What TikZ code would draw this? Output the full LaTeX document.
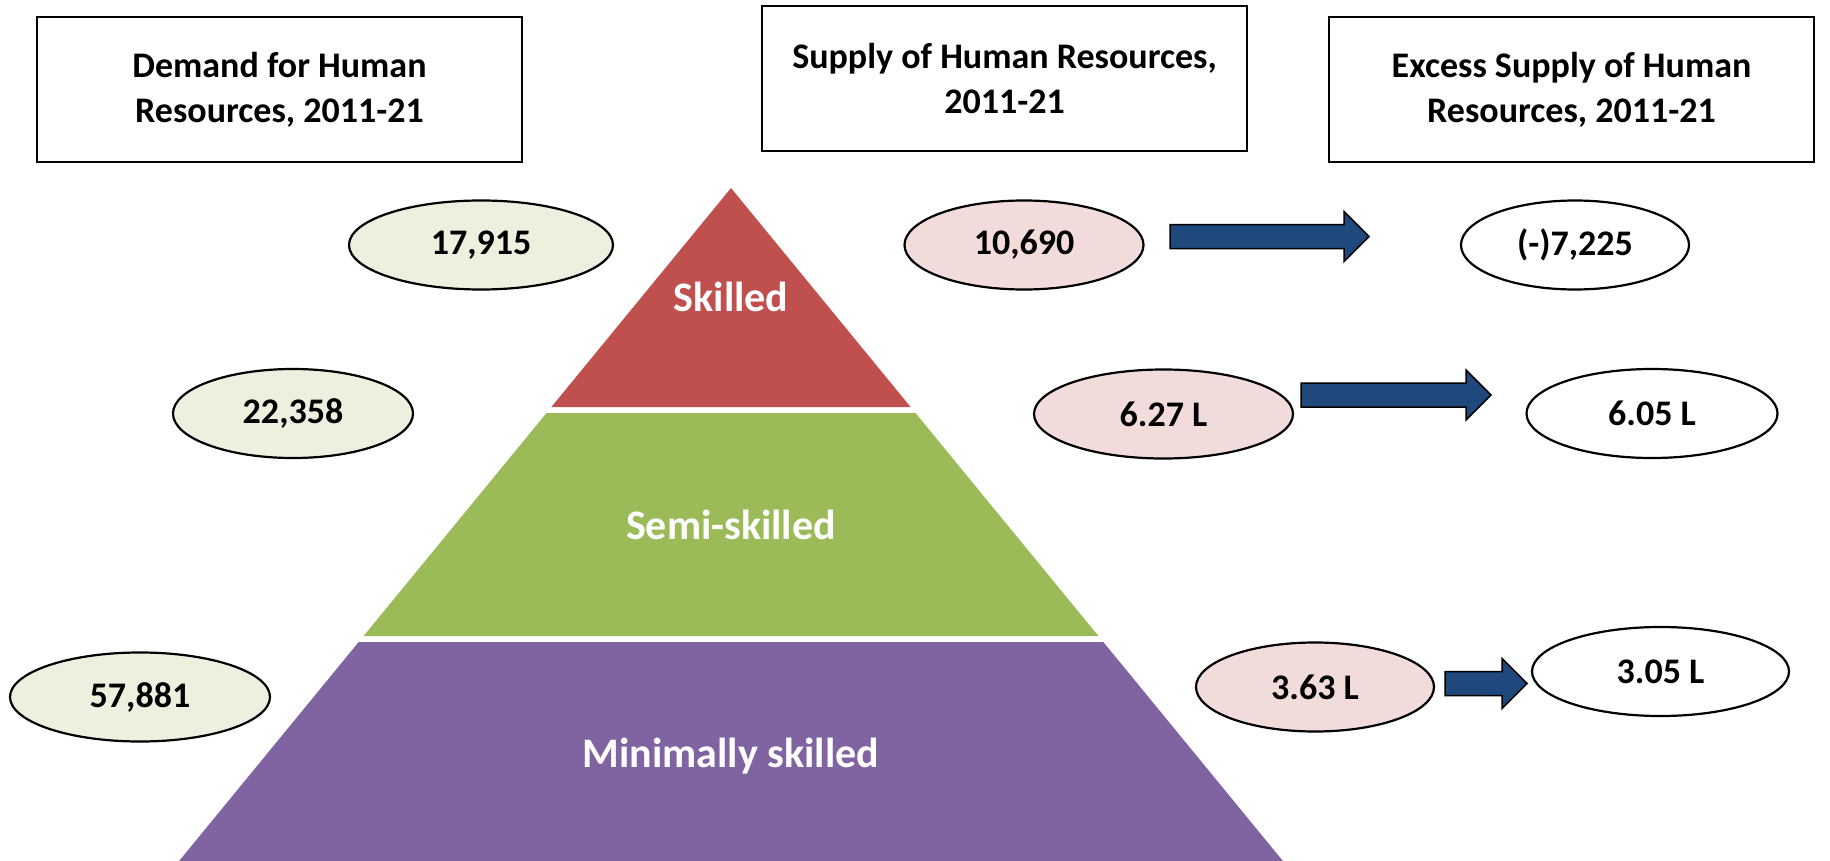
\documentclass[tikz,border=0pt]{standalone}
\usepackage{fontspec}
\setmainfont{Carlito}
\usepackage{xcolor}
\usepackage{tikz}
\usetikzlibrary{calc,shapes.geometric}
\definecolor{skill}{HTML}{C0504D}
\definecolor{semi}{HTML}{9BBB59}
\definecolor{mini}{HTML}{8064A2}
\definecolor{demfill}{HTML}{EBF1DE}
\definecolor{supfill}{HTML}{F2DCDB}
\definecolor{navy}{HTML}{1F497D}
\tikzset{
  titlebox/.style={draw=black, line width=2pt, minimum width=485pt, minimum height=145pt, align=center, font=\fontsize{36}{45}\selectfont\bfseries},
  numell/.style={ellipse, draw=black, line width=2.2pt, inner sep=0pt, minimum height=89pt, font=\fontsize{36}{43}\selectfont\bfseries},
  demell/.style={numell, fill=demfill},
  supell/.style={numell, fill=supfill},
  excell/.style={numell, fill=white},
  tierlab/.style={text=white, text height=28pt, text depth=0pt, font=\fontsize{42}{50}\selectfont\bfseries},
  bluearrow/.style={fill=navy, draw=black, line width=1.5pt, line join=miter},
}
\newcommand{\blockarrow}[2]{%
  \draw[bluearrow] ($(#1)+(0,-12)$) -- ($(#2)+(-25,-12)$) -- ($(#2)+(-25,-25)$) -- (#2)
    -- ($(#2)+(-25,25)$) -- ($(#2)+(-25,12)$) -- ($(#1)+(0,12)$) -- cycle;}

\begin{document}
\begin{tikzpicture}[x=1pt,y=-1pt]
  \useasboundingbox (0,0) rectangle (1830,861);

  % pyramid, sides at slope 0.82
  \fill[skill] (731,188) -- (910.6,407) -- (551.4,407) -- cycle;
  \fill[semi] (546.5,413) -- (915.5,413) -- (1098.4,636) -- (363.6,636) -- cycle;
  \fill[mini] (358.7,642) -- (1103.3,642) -- (1282.9,861) -- (179.1,861) -- cycle;
  \node[tierlab] (sk) at (731,297) {Skilled};
  \node[tierlab] (ss) at (731,525) {Semi-skilled};
  \node[tierlab] (ms) at (731,753) {Minimally skilled};

  \node[titlebox] (dem) at (279.5,89.5) {Demand for Human\\Resources, 2011-21};
  \node[titlebox] (sup) at (1004.5,78.5) {Supply of Human Resources,\\2011-21};
  \node[titlebox] (exc) at (1571.5,89.5) {Excess Supply of Human\\Resources, 2011-21};

  \node[demell, minimum width=264pt] (d1) at (481,245) {17,915};
  \node[demell, minimum width=240pt] (d2) at (293,413.5) {22,358};
  \node[demell, minimum width=260pt] (d3) at (140,697) {57,881};
  \node[supell, minimum width=239pt] (s1) at (1024,245) {10,690};
  \node[supell, minimum width=259pt] (s2) at (1163.5,414) {6.27 L};
  \node[supell, minimum width=238pt] (s3) at (1315,687) {3.63 L};
  \node[excell, minimum width=228pt] (e1) at (1575,245) {(-)7,225};
  \node[excell, minimum width=251pt] (e2) at (1652,413.5) {6.05 L};
  \node[excell, minimum width=257pt] (e3) at (1660.5,671.5) {3.05 L};

  \coordinate (a1) at (1170,236.5);
  \coordinate (b1) at (1369,236.5);
  \coordinate (a2) at (1301,395);
  \coordinate (b2) at (1491,395);
  \coordinate (a3) at (1445,683.5);
  \coordinate (b3) at (1527,683.5);
  \blockarrow{a1}{b1}
  \blockarrow{a2}{b2}
  \blockarrow{a3}{b3}
\end{tikzpicture}
\end{document}
